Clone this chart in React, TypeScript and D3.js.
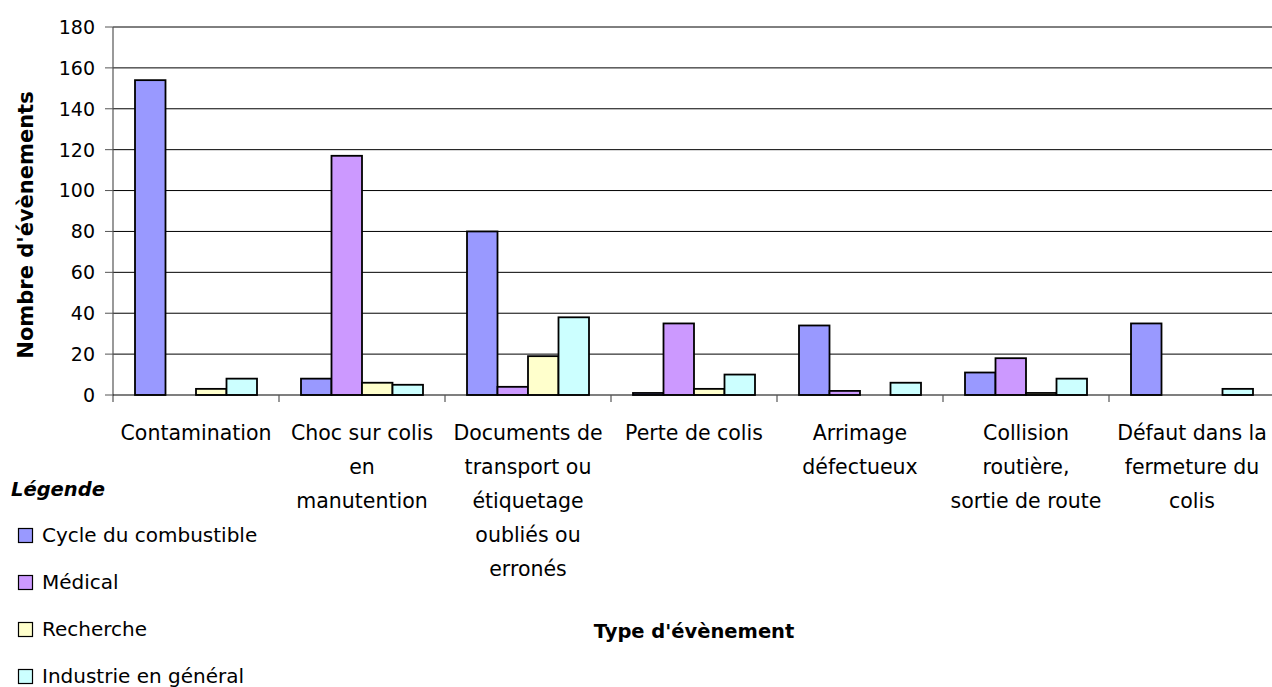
import * as d3 from 'd3'

const categories = [
  ['Contamination'],
  ['Choc sur colis', 'en', 'manutention'],
  ['Documents de', 'transport ou', 'étiquetage', 'oubliés ou', 'erronés'],
  ['Perte de colis'],
  ['Arrimage', 'défectueux'],
  ['Collision', 'routière,', 'sortie de route'],
  ['Défaut dans la', 'fermeture du', 'colis'],
]
const series = ['Cycle du combustible', 'Médical', 'Recherche', 'Industrie en général']
const colors = ['#9999FF', '#CC99FF', '#FFFFCC', '#CCFFFF']

// values per series, in category order
const cycle = [154, 8, 80, 1, 34, 11, 35]
const medical = [0, 117, 4, 35, 2, 18, 0]
const recherche = [3, 6, 19, 3, 0, 1, 0]
const industrie = [8, 5, 38, 10, 6, 8, 3]
const values = [cycle, medical, recherche, industrie]

const yTicks = [0, 20, 40, 60, 80, 100, 120, 140, 160, 180]

const W = 1272
const H = 687
const FONT = '"DejaVu Sans", Verdana, sans-serif'

export default function App() {
  const catIdx = categories.map((_, i) => i)
  const x = d3.scaleBand<number>().domain(catIdx).range([113, 113 + 166 * 7])
  const xs = d3.scaleBand<number>().domain([0, 1, 2, 3]).range([22, 144])
  const y = d3.scaleLinear().domain([0, 180]).range([395, 27])

  return (
    <svg width={W} height={H} style={{ position: 'absolute', left: 0, top: 0, background: '#fff' }}
      fontFamily={FONT}>
      {/* gridlines + y ticks */}
      {yTicks.map((t) => (
        <g key={t}>
          {t > 0 && <line x1={113} x2={W} y1={y(t)} y2={y(t)} stroke="#000" strokeWidth={1} />}
          <line x1={105} x2={113} y1={y(t)} y2={y(t)} stroke="#555" strokeWidth={1} />
          <text x={95} y={y(t)} dy="0.36em" textAnchor="end" fontSize={19} fill="#000">{t}</text>
        </g>
      ))}
      {/* bars */}
      {values.map((vals, s) => (
        <g key={s}>
          {vals.map((v, c) => v > 0 && (
            <rect key={c}
              x={(x(c) ?? 0) + (xs(s) ?? 0)}
              y={y(v)}
              width={xs.bandwidth()}
              height={y(0) - y(v)}
              fill={colors[s]}
              stroke="#000"
              strokeWidth={1.8}
            />
          ))}
        </g>
      ))}
      {/* axes */}
      <line x1={113} x2={113} y1={27} y2={402} stroke="#555" strokeWidth={1.2} />
      <line x1={113} x2={W} y1={395} y2={395} stroke="#000" strokeWidth={1.2} />
      {catIdx.map((c) => (
        <line key={c} x1={(x(c) ?? 0) + 166} x2={(x(c) ?? 0) + 166} y1={395} y2={402} stroke="#555" strokeWidth={1.2} />
      ))}
      {/* category labels */}
      {categories.map((lines, c) => (
        <text key={c} textAnchor="middle" fontSize={20.5} fill="#000">
          {lines.map((l, i) => (
            <tspan key={i} x={(x(c) ?? 0) + x.bandwidth() / 2} y={440 + i * 34}>{l}</tspan>
          ))}
        </text>
      ))}
      {/* axis titles */}
      <text transform="translate(32.5,225) rotate(-90)" textAnchor="middle" fontSize={21} fontWeight="bold">
        Nombre d'évènements
      </text>
      <text x={694} y={638} textAnchor="middle" fontSize={19.5} fontWeight="bold">Type d'évènement</text>
      {/* legend */}
      <text x={11} y={496} fontSize={19.5} fontWeight="bold" fontStyle="italic">Légende</text>
      {series.map((s, i) => (
        <g key={s} transform={`translate(0,${541.5 + i * 47})`}>
          <rect x={18.5} y={-13} width={14} height={14} fill={colors[i]} stroke="#000" strokeWidth={1.2} />
          <text x={42} y={0} fontSize={20}>{s}</text>
        </g>
      ))}
    </svg>
  )
}
